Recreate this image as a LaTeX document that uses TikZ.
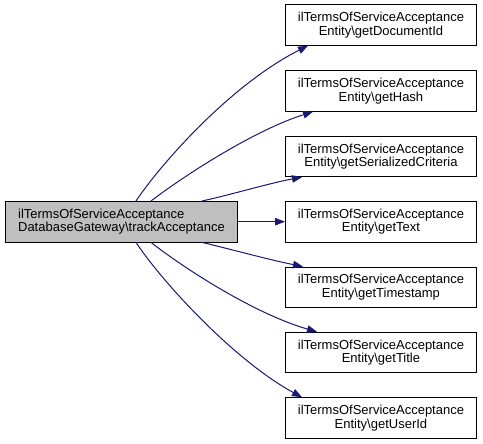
\documentclass[tikz,border=0pt]{standalone}
\usepackage{fontspec}
\setmainfont{Liberation Sans}
\usetikzlibrary{arrows.meta,positioning}
\definecolor{edgeblue}{HTML}{191970}
\definecolor{callgray}{HTML}{BFBFBF}
\begin{document}
\begin{tikzpicture}[x=1bp, y=-1bp,
        fnbox/.style = {draw = black, line width = 0.9bp, fill = white, anchor = west,
            minimum width = 191bp, minimum height = 40.5bp, inner sep = 2bp,
            align = center, font = \fontsize{13bp}{13.6bp}\selectfont},
        callbox/.style = {fnbox, fill = callgray, minimum width = 232bp, align = left},
        call/.style = {draw = edgeblue, line width = 1bp, -{Triangle[length = 10bp, width = 7.5bp]}}]

        % Keep the page the size of the reference
        \useasboundingbox (0,0) rectangle (483,444);

        % Define the caller
        \node[callbox] (track) at (5,221.7) {ilTermsOfServiceAcceptance\\DatabaseGateway\textbackslash trackAcceptance};

        % Define the callees
        \node[fnbox] (docid) at (285,25)  {ilTermsOfServiceAcceptance\\Entity\textbackslash getDocumentId};
        \node[fnbox] (hash)  at (285,91)  {ilTermsOfServiceAcceptance\\Entity\textbackslash getHash};
        \node[fnbox] (crit)  at (285,156.5) {ilTermsOfServiceAcceptance\\Entity\textbackslash getSerializedCriteria};
        \node[fnbox] (text)  at (285,221.7) {ilTermsOfServiceAcceptance\\Entity\textbackslash getText};
        \node[fnbox] (stamp) at (285,287.2) {ilTermsOfServiceAcceptance\\Entity\textbackslash getTimestamp};
        \node[fnbox] (title) at (285,352.5) {ilTermsOfServiceAcceptance\\Entity\textbackslash getTitle};
        \node[fnbox] (user)  at (285,418) {ilTermsOfServiceAcceptance\\Entity\textbackslash getUserId};

        % Calls above
        \draw[call] ([xshift=131bp]track.north west) .. controls (160,165) and (230,85) .. ([xshift=23bp]docid.south west);
        \draw[call] ([xshift=146bp]track.north west) .. controls (185,175) and (255,130) .. ([xshift=28bp]hash.south west);
        \draw[call] ([xshift=197bp]track.north west) .. controls (230,195) and (270,183) .. ([xshift=17bp]crit.south west);

        % Straight call
        \draw[call] (track) -- (text);

        % Calls below
        \draw[call] ([xshift=197bp]track.south west) .. controls (230,249) and (270,260) .. ([xshift=18bp]stamp.north west);
        \draw[call] ([xshift=146bp]track.south west) .. controls (185,269) and (255,314) .. ([xshift=32bp]title.north west);
        \draw[call] ([xshift=131bp]track.south west) .. controls (160,279) and (232,359) .. ([xshift=17bp]user.north west);
    \end{tikzpicture}
\end{document}
